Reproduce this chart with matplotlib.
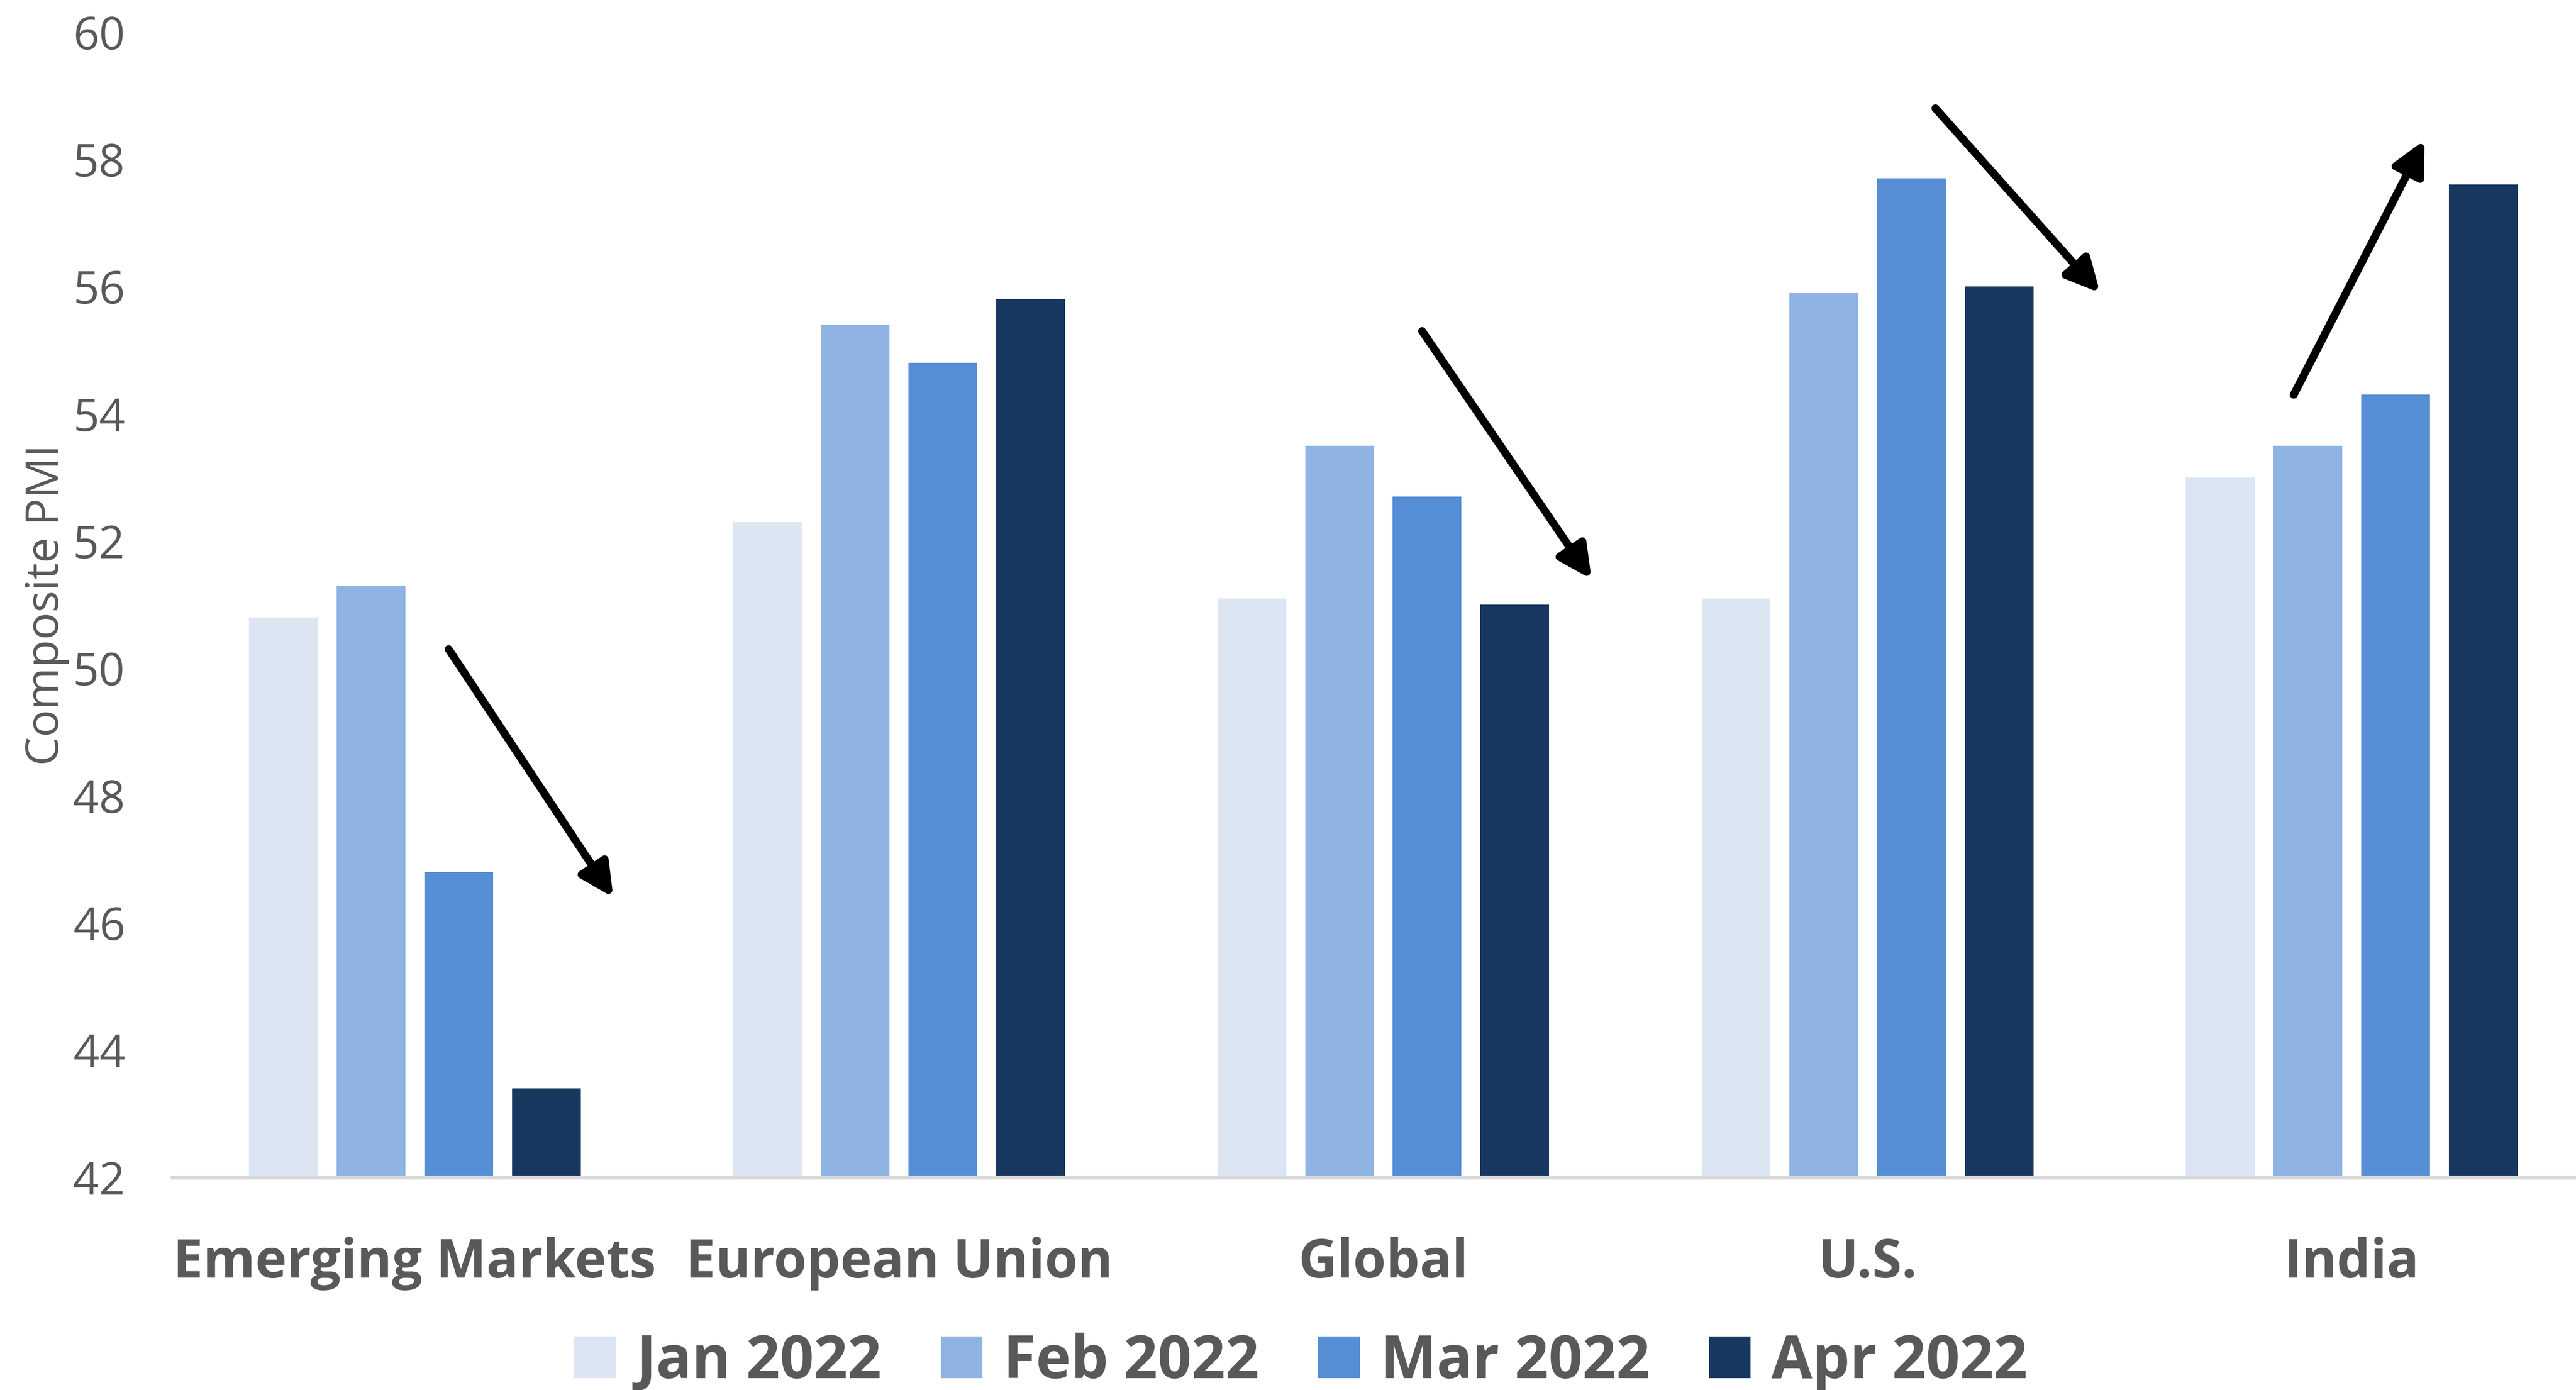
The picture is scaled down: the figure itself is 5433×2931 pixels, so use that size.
import numpy as np
import matplotlib
matplotlib.use("Agg")
import matplotlib.pyplot as plt

plt.rcParams['font.family'] = ['Open Sans', 'DejaVu Sans']

# data
regions = ["Emerging Markets", "European Union", "Global", "U.S.", "India"]
months = ["Jan 2022", "Feb 2022", "Mar 2022", "Apr 2022"]
jan = [50.8, 52.3, 51.1, 51.1, 53.0]
feb = [51.3, 55.4, 53.5, 55.9, 53.5]
mar = [46.8, 54.8, 52.7, 57.7, 54.3]
apr = [43.4, 55.8, 51.0, 56.0, 57.6]
series = [jan, feb, mar, apr]
colors = ["#DCE6F2", "#8FB4E3", "#558ED5", "#17375E"]

# trend arrows (start -> end, data coords)
arrows = [((0.07, 50.3), (0.41, 46.4)),
          ((2.08, 55.3), (2.43, 51.4)),
          ((3.14, 58.8), (3.48, 55.9)),
          ((3.88, 54.3), (4.15, 58.3))]

grey = "#595959"

fig = plt.figure(figsize=(5433 / 300, 2931 / 300), dpi=300)
ax = fig.add_axes([0.067, 0.153, 0.94, 0.824])

x = np.arange(len(regions))
step = 0.181
width = 0.142
for i, (vals, c, lab) in enumerate(zip(series, colors, months)):
    ax.bar(x + (i - 1.5) * step, np.array(vals) - 42, width, bottom=42,
           color=c, label=lab, zorder=2)

for (x0, y0), (x1, y1) in arrows:
    ax.annotate("", xy=(x1, y1), xytext=(x0, y0),
                arrowprops=dict(arrowstyle="-|>", color="black", lw=4,
                                mutation_scale=35, shrinkA=0, shrinkB=0),
                zorder=3)

ax.set_ylim(42, 60)
ax.set_xlim(-0.5, 4.5)
ax.set_yticks(np.arange(42, 61, 2))
ax.set_xticks(x)
ax.set_xticklabels(regions, fontsize=27, fontweight="bold", color=grey)
ax.tick_params(axis="y", labelsize=23, labelcolor=grey, length=0, pad=24)
ax.tick_params(axis="x", length=0, pad=30)
ax.set_ylabel("Composite PMI", fontsize=23, color=grey, labelpad=2)

for s in ["top", "right", "left"]:
    ax.spines[s].set_visible(False)
ax.spines["bottom"].set_color("#D9D9D9")
ax.spines["bottom"].set_linewidth(2)

leg = fig.legend(loc="lower center", bbox_to_anchor=(0.505, -0.04), ncol=4,
                 frameon=False, handlelength=0.7, handleheight=0.7,
                 columnspacing=1.0, handletextpad=0.35,
                 prop=dict(size=30, weight="bold"))
for t in leg.get_texts():
    t.set_color(grey)

fig.savefig("out.png", dpi=300)
